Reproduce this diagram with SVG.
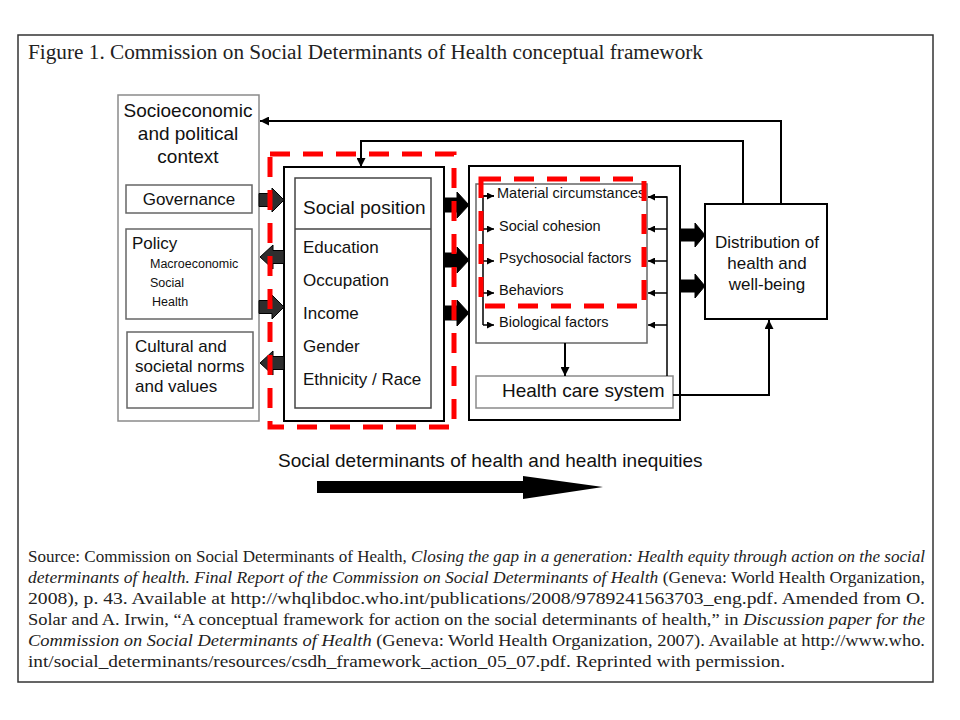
<svg xmlns="http://www.w3.org/2000/svg" width="960" height="720" viewBox="0 0 960 720">
<style>
.sans{font-family:"Liberation Sans",Arial,sans-serif;fill:#111}
.serif{font-family:"Liberation Serif","Times New Roman",serif;fill:#222}
.it{font-style:italic}
.box{fill:#fff;stroke:#000;stroke-width:2}
.gbox{fill:#fff;stroke:#666;stroke-width:1.5}
.lbox{fill:#fff;stroke:#8a8a8a;stroke-width:1.5}
.conn{fill:none;stroke:#000;stroke-width:2}
.thin{fill:none;stroke:#000;stroke-width:1.5}
.darr{fill:#2e2e2e;stroke:#000;stroke-width:1}
.barr{fill:#000;stroke:#000;stroke-width:1}
.red{fill:none;stroke:#ff0000;stroke-width:5;stroke-dasharray:20 13}
</style>
<defs>
<marker id="ah" markerUnits="userSpaceOnUse" markerWidth="9" markerHeight="9" refX="9" refY="4.5" orient="auto">
<path d="M0,0 L9,4.5 L0,9 z" fill="#000"/>
</marker>
<marker id="sah" markerUnits="userSpaceOnUse" markerWidth="7" markerHeight="7" refX="7" refY="3.5" orient="auto">
<path d="M0,0 L7,3.5 L0,7 z" fill="#000"/>
</marker>
</defs>
<rect width="960" height="720" fill="#fff"/>
<rect x="18" y="35" width="915" height="647" fill="none" stroke="#333" stroke-width="1.5"/>
<text class="serif" x="28" y="59" font-size="20" textLength="675" lengthAdjust="spacingAndGlyphs">Figure 1. Commission on Social Determinants of Health conceptual framework</text>

<g id="socioeconomic">
<rect class="lbox" x="118" y="95" width="141" height="326"/>
<text class="sans" font-size="19" text-anchor="middle"><tspan x="188" y="117">Socioeconomic</tspan><tspan x="188" y="140">and political</tspan><tspan x="188" y="163">context</tspan></text>
</g>
<g id="governance">
<rect class="gbox" x="126" y="185" width="126" height="28"/>
<text class="sans" font-size="17" x="189" y="205" text-anchor="middle">Governance</text>
</g>
<g id="policy">
<rect class="gbox" x="126" y="229" width="126" height="90"/>
<text class="sans" font-size="17" x="132" y="249">Policy</text>
<text class="sans" font-size="12.5" x="150" y="268">Macroeconomic</text>
<text class="sans" font-size="12.5" x="150" y="287">Social</text>
<text class="sans" font-size="12.5" x="152" y="306">Health</text>
</g>
<g id="cultural">
<rect class="gbox" x="127" y="332" width="126" height="76"/>
<text class="sans" font-size="17"><tspan x="135" y="352">Cultural and</tspan><tspan x="135" y="372">societal norms</tspan><tspan x="135" y="392">and values</tspan></text>
</g>

<g id="social-position">
<rect class="box" x="284" y="167" width="160" height="254"/>
<rect fill="#fff" stroke="#444" stroke-width="1.5" x="295" y="178" width="136" height="230"/>
<line x1="295" y1="229" x2="431" y2="229" stroke="#444" stroke-width="1.5"/>
<text class="sans" font-size="19" x="303" y="214">Social position</text>
<text class="sans" font-size="17" x="303" y="253">Education</text>
<text class="sans" font-size="17" x="303" y="286">Occupation</text>
<text class="sans" font-size="17" x="303" y="319">Income</text>
<text class="sans" font-size="17" x="303" y="352">Gender</text>
<text class="sans" font-size="17" x="303" y="385">Ethnicity / Race</text>
</g>

<g id="intermediary">
<rect class="box" x="469" y="166" width="211" height="254"/>
<rect class="gbox" x="476" y="184" width="171" height="159"/>
<text class="sans" font-size="14.5" x="497" y="198">Material circumstances</text>
<text class="sans" font-size="14.5" x="499" y="231">Social cohesion</text>
<text class="sans" font-size="14.5" x="499" y="263">Psychosocial factors</text>
<text class="sans" font-size="14.5" x="499" y="295">Behaviors</text>
<text class="sans" font-size="14.5" x="499" y="327">Biological factors</text>
</g>
<g id="health-care-system">
<rect class="lbox" x="476" y="376" width="197" height="32"/>
<text class="sans" font-size="19" x="502" y="397">Health care system</text>
</g>
<g id="distribution">
<rect class="box" x="705" y="204" width="122" height="115"/>
<text class="sans" font-size="17" text-anchor="middle"><tspan x="767" y="248">Distribution of</tspan><tspan x="767" y="269">health and</tspan><tspan x="767" y="290">well-being</tspan></text>
</g>

<g id="connectors">
<path class="conn" d="M781,204 V121 H260" marker-end="url(#ah)"/>
<path class="conn" d="M743,204 V141 H361 V167" marker-end="url(#ah)"/>
<path class="conn" d="M673,395 H769 V320" marker-end="url(#ah)"/>
<path class="conn" d="M565,343 V376" marker-end="url(#ah)"/>
<path class="thin" d="M494,196 H483 V325"/>
<path class="thin" d="M483,196 H494" marker-end="url(#sah)"/>
<path class="thin" d="M483,229 H494" marker-end="url(#sah)"/>
<path class="thin" d="M483,261 H494" marker-end="url(#sah)"/>
<path class="thin" d="M483,293 H494" marker-end="url(#sah)"/>
<path class="thin" d="M483,325 H494" marker-end="url(#sah)"/>
<path class="thin" d="M648,197 H667 V376"/>
<path class="thin" d="M667,197 H648" marker-end="url(#sah)"/>
<path class="thin" d="M667,229 H648" marker-end="url(#sah)"/>
<path class="thin" d="M667,261 H648" marker-end="url(#sah)"/>
<path class="thin" d="M667,293 H648" marker-end="url(#sah)"/>
<path class="thin" d="M667,325 H648" marker-end="url(#sah)"/>
<path class="darr" d="M259,193.5 H272 V188 L284,200 L272,212 V206.5 H259 Z"/>
<path class="darr" d="M284,250.5 H273 V245 L260,257 L273,269 V263.5 H284 Z"/>
<path class="darr" d="M259,300.5 H272 V295 L284,307 L272,319 V313.5 H259 Z"/>
<path class="darr" d="M284,356.5 H273 V351 L260,363 L273,375 V369.5 H284 Z"/>
<path class="barr" d="M444,198 H457 V192 L469,205 L457,218 V212 H444 Z"/>
<path class="barr" d="M444,253 H457 V247 L469,260 L457,273 V267 H444 Z"/>
<path class="barr" d="M444,306 H457 V300 L469,313 L457,326 V320 H444 Z"/>
<path class="barr" d="M680,229 H695 V223 L705,235 L695,247 V241 H680 Z"/>
<path class="barr" d="M680,280 H695 V274 L705,286 L695,298 V292 H680 Z"/>
</g>

<g id="highlights">
<rect class="red" x="270" y="154" width="184" height="273"/>
<rect class="red" x="481" y="179" width="163" height="127"/>
</g>

<g id="axis">
<text class="sans" font-size="19" x="278" y="467">Social determinants of health and health inequities</text>
<path d="M317,481 H523 V476 L603,487 L523,499 V493 H317 Z" fill="#000"/>
</g>

<g id="source" class="serif" font-size="16">
<text x="28" y="562" textLength="897" lengthAdjust="spacingAndGlyphs">Source: Commission on Social Determinants of Health, <tspan class="it">Closing the gap in a generation: Health equity through action on the social</tspan></text>
<text x="28" y="583" textLength="897" lengthAdjust="spacingAndGlyphs"><tspan class="it">determinants of health. Final Report of the Commission on Social Determinants of Health</tspan> (Geneva: World Health Organization,</text>
<text x="28" y="604" textLength="897" lengthAdjust="spacingAndGlyphs">2008), p. 43. Available at http://whqlibdoc.who.int/publications/2008/9789241563703_eng.pdf. Amended from O.</text>
<text x="28" y="625" textLength="897" lengthAdjust="spacingAndGlyphs">Solar and A. Irwin, “A conceptual framework for action on the social determinants of health,” in <tspan class="it">Discussion paper for the</tspan></text>
<text x="28" y="646" textLength="897" lengthAdjust="spacingAndGlyphs"><tspan class="it">Commission on Social Determinants of Health</tspan> (Geneva: World Health Organization, 2007). Available at http://www.who.</text>
<text x="28" y="667" textLength="757" lengthAdjust="spacingAndGlyphs">int/social_determinants/resources/csdh_framework_action_05_07.pdf. Reprinted with permission.</text>
</g>
</svg>
